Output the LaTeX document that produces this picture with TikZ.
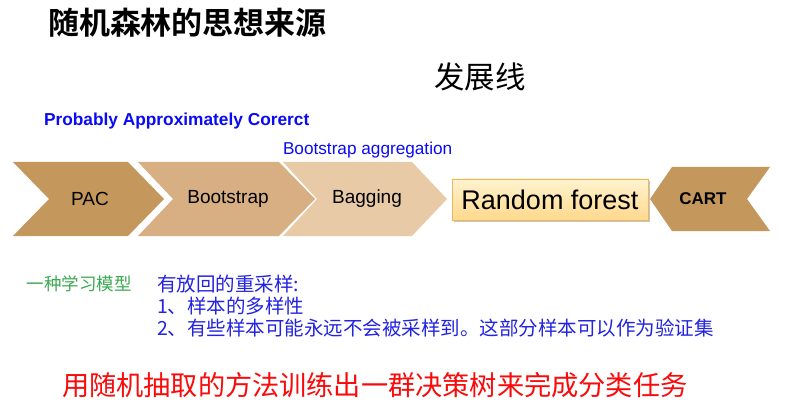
\documentclass[tikz,border=0pt]{standalone}
\usepackage{fontspec}
\setmainfont{Liberation Sans}
\newfontfamily\cjk[BoldFont={Noto Sans CJK SC Bold}]{Noto Sans CJK SC}
\usetikzlibrary{shadows}
\definecolor{cpac}{HTML}{C4975C}
\definecolor{cboot}{HTML}{D7AF82}
\definecolor{cbag}{HTML}{E8CAA7}
\definecolor{rftop}{HTML}{FFF3D0}
\definecolor{rfbot}{HTML}{FFD98C}
\definecolor{rfline}{HTML}{EFB45E}
\definecolor{tblue}{RGB}{10,10,245}
\definecolor{lblue}{RGB}{35,35,225}
\definecolor{tgreen}{RGB}{60,170,80}
\definecolor{tred}{RGB}{250,10,10}
\tikzset{
  txt/.style={inner sep=0pt, outer sep=0pt},
  chev/.style={txt, font=\fontsize{19}{22}\selectfont},
  rfbox/.style={draw=rfline, line width=0.9pt, top color=rftop, bottom color=rfbot,
     minimum width=196pt, minimum height=41pt, inner sep=0pt,
     drop shadow={shadow xshift=1.5pt, shadow yshift=-2pt, opacity=0.45, fill=gray},
     font=\fontsize{27}{30}\selectfont}
}
\begin{document}
\begin{tikzpicture}[x=1pt,y=-1pt]
\useasboundingbox[fill=white] (0,0) rectangle (801,409);
% title
\node[txt, anchor=west, font=\cjk\bfseries\fontsize{31}{35}\selectfont] (title) at (48,23) {随机森林的思想来源};
\node[txt, anchor=west, font=\cjk\fontsize{30.5}{34}\selectfont] (line) at (434,77) {发展线};
% labels above
\node[txt, anchor=west, text=tblue, font=\bfseries\fontsize{17.3}{20}\selectfont] (pacl) at (44,121) {Probably Approximately Corerct};
\node[txt, anchor=west, text=tblue, font=\fontsize{17.2}{20}\selectfont] (bagl) at (283,150) {Bootstrap aggregation};
% chevrons
\fill[cpac] (13,162) -- (128,162) -- (164,199) -- (128,236) -- (13,236) -- (49,199) -- cycle;
\fill[cboot] (138,162) -- (279,162) -- (315,199) -- (279,236) -- (138,236) -- (173,199) -- cycle;
\fill[cbag] (283,162) -- (412,162) -- (447,199) -- (412,236) -- (283,236) -- (317,199) -- cycle;
\node[chev] (pac) at (90,199) {PAC};
\node[chev] (boot) at (228,199) {Bootstrap};
\node[chev] (bag) at (367,199) {Bagging};
% random forest
\node[rfbox] (rf) at (550,199.5) {Random forest};
% CART
\fill[cpac] (650,199) -- (672,167) -- (770,167) -- (747,199) -- (770,231) -- (672,231) -- cycle;
\node[txt, font=\bfseries\fontsize{17}{20}\selectfont] (cart) at (703,199) {CART};
% bottom texts
\node[txt, anchor=west, text=tgreen, font=\cjk\fontsize{17.5}{20}\selectfont] (model) at (27,284) {一种学习模型};
\node[txt, anchor=west, text=lblue, font=\cjk\fontsize{19.5}{22}\selectfont] (s1) at (157,284) {有放回的重采样:};
\node[txt, anchor=west, text=lblue, font=\cjk\fontsize{19.5}{22}\selectfont] (s2) at (157,306) {1、样本的多样性};
\node[txt, anchor=west, text=lblue, font=\cjk\fontsize{19.5}{22}\selectfont] (s3) at (157,328) {2、有些样本可能永远不会被采样到。这部分样本可以作为验证集};
\node[txt, anchor=west, text=tred, font=\cjk\fontsize{27.2}{30}\selectfont] (concl) at (62,385) {用随机抽取的方法训练出一群决策树来完成分类任务};
\end{tikzpicture}
\end{document}
